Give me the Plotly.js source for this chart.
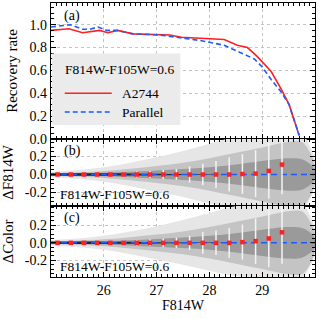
<!DOCTYPE html>
<html>
<head>
<meta charset="utf-8">
<script src="https://cdn.plot.ly/plotly-3.0.1.min.js"></script>
<style>html,body{margin:0;padding:0;background:#fff}#chart{width:319px;height:319px}</style>
</head>
<body>
<div id="chart"></div>
<script>
// ---- Panel (a): recovery rate ----
const a2744Mag  = [25.0, 25.34, 25.6, 25.92, 26.08, 26.26, 26.55, 26.87, 27.25, 27.47, 27.85, 28.28, 28.53, 28.72, 28.9, 29.17, 29.36, 29.51, 29.70];
const a2744Rate = [0.95, 0.965, 0.93, 0.95, 0.93, 0.95, 0.92, 0.915, 0.91, 0.89, 0.88, 0.87, 0.82, 0.80, 0.725, 0.59, 0.435, 0.30, 0.03];
const parMag  = [25.0, 25.36, 25.6, 25.74, 25.89, 26.06, 26.25, 26.55, 27.06, 27.38, 27.85, 28.28, 28.6, 28.85, 29.0, 29.17, 29.36, 29.51, 29.70];
const parRate = [0.98, 1.0, 0.96, 0.96, 0.98, 0.95, 0.95, 0.92, 0.91, 0.89, 0.86, 0.82, 0.755, 0.70, 0.63, 0.52, 0.41, 0.30, 0.03];

// ---- Panels (b),(c): binned offsets ----
const binMag = [25.125, 25.375, 25.625, 25.875, 26.125, 26.375, 26.625, 26.875, 27.125, 27.375, 27.625, 27.875, 28.125, 28.375, 28.625, 28.875, 29.125, 29.375];
const dMagMean = [0, 0, 0, 0, 0, 0, 0, 0, 0, 0, 0, 0, 0, 0, 0.005, 0.01, 0.04, 0.11];
const dMagErr  = [0.01, 0.012, 0.015, 0.018, 0.022, 0.027, 0.033, 0.04, 0.05, 0.06, 0.09, 0.12, 0.15, 0.19, 0.22, 0.26, 0.31, 0.33];
const dColMean = [0, 0, 0, 0, 0, 0, 0, 0, 0, 0, 0, 0, 0, 0, 0.008, 0.02, 0.05, 0.12];
const dColErr  = [0.01, 0.012, 0.015, 0.018, 0.022, 0.027, 0.033, 0.04, 0.05, 0.06, 0.08, 0.125, 0.14, 0.17, 0.2, 0.26, 0.33, 0.36];

// scatter-cloud envelopes
const cloudMag = [25.0, 25.25, 25.5, 26.0, 26.5, 27.0, 27.5, 28.0, 28.5, 29.0, 29.5, 29.75, 29.9, 30.0];
const outerHi  = [0.03, 0.04, 0.05, 0.08, 0.13, 0.19, 0.26, 0.34, 0.42, 0.45, 0.45, 0.45, 0.32, 0.15];
const outerLo  = [-0.03, -0.04, -0.05, -0.08, -0.13, -0.19, -0.25, -0.32, -0.38, -0.40, -0.40, -0.40, -0.28, -0.12];
const midHalf  = [0.016, 0.02, 0.026, 0.04, 0.065, 0.095, 0.13, 0.18, 0.24, 0.30, 0.36, 0.36, 0.25, 0.1];
const innerHalf= [0.008, 0.01, 0.013, 0.02, 0.03, 0.045, 0.06, 0.08, 0.11, 0.15, 0.18, 0.17, 0.12, 0.05];
const coreHalf = [0.014, 0.014, 0.014, 0.013, 0.011, 0.008, 0.005, 0.003, 0.0, 0.0, 0.0, 0.0, 0.0, 0.0];

const zeroX = [25, 30];
const zeroY = [0, 0];

const aTicks = [0, 0.2, 0.4, 0.6, 0.8, 1.0];
const aTickText = ['0.0', '0.2', '0.4', '0.6', '0.8', '1.0'];
const dTicks = [-0.2, 0, 0.2];
const dTickText = ['-0.2', '0.0', '0.2'];
const xTicks = [26, 27, 28, 29];
const xTickText = ['26', '27', '28', '29'];

const FONT = '"Liberation Serif", "Times New Roman", serif';
const RED = '#ff2020';
const BLUE = '#1f5cff';

function band(hi, lo, color, xa, ya) {
  const xs = cloudMag.concat(cloudMag.slice().reverse());
  const ys = hi.concat(lo.slice().reverse());
  return {x: xs, y: ys, type: 'scatter', mode: 'lines', fill: 'toself', fillcolor: color,
          line: {width: 0, color: color, shape: 'spline'}, xaxis: xa, yaxis: ya, hoverinfo: 'skip', showlegend: false};
}
function neg(arr) { return arr.map(v => -v); }

function cloud(xa, ya) {
  return [
    band(outerHi, outerLo, '#e6e6e6', xa, ya),
    band(midHalf, neg(midHalf), '#c4c4c4', xa, ya),
    band(innerHalf, neg(innerHalf), '#9a9a9a', xa, ya),
    band(coreHalf, neg(coreHalf), '#262626', xa, ya)
  ];
}

const traces = [
  {x: a2744Mag, y: a2744Rate, type: 'scatter', mode: 'lines', line: {color: RED, width: 1.6}, xaxis: 'x', yaxis: 'y', showlegend: false},
  {x: parMag, y: parRate, type: 'scatter', mode: 'lines', line: {color: BLUE, width: 1.6, dash: '5px,3px'}, xaxis: 'x', yaxis: 'y', showlegend: false},
  ...cloud('x2', 'y2'),
  {x: zeroX, y: zeroY, type: 'scatter', mode: 'lines', line: {color: BLUE, width: 1.5, dash: '6px,4px'}, xaxis: 'x2', yaxis: 'y2', showlegend: false},
  {x: binMag, y: dMagMean, type: 'scatter', mode: 'markers', marker: {symbol: 'square', size: 4.5, color: RED},
   error_y: {type: 'data', array: dMagErr, color: '#f4f4f4', thickness: 1.5, width: 0}, xaxis: 'x2', yaxis: 'y2', showlegend: false},
  ...cloud('x3', 'y3'),
  {x: zeroX, y: zeroY, type: 'scatter', mode: 'lines', line: {color: BLUE, width: 1.5, dash: '6px,4px'}, xaxis: 'x3', yaxis: 'y3', showlegend: false},
  {x: binMag, y: dColMean, type: 'scatter', mode: 'markers', marker: {symbol: 'square', size: 4.5, color: RED},
   error_y: {type: 'data', array: dColErr, color: '#f4f4f4', thickness: 1.5, width: 0}, xaxis: 'x3', yaxis: 'y3', showlegend: false}
];

const axCommon = {
  showline: true, linecolor: '#000', linewidth: 1.2, mirror: 'allticks',
  ticks: 'inside', ticklen: 5, tickwidth: 1, tickcolor: '#000',
  showgrid: true, gridcolor: '#c4c4c4', griddash: 'dot', gridwidth: 1,
  zeroline: false, tickfont: {family: FONT, size: 14, color: '#000'}
};
function xax(anchor, showLabels) {
  return Object.assign({}, axCommon, {
    range: [25, 30], anchor: anchor, tickmode: 'array', tickvals: xTicks, ticktext: xTickText,
    showticklabels: showLabels, matches: anchor === 'y' ? undefined : 'x',
    minor: {dtick: 0.1, ticks: 'inside', ticklen: 3, tickcolor: '#000', showgrid: false}
  });
}

const layout = {
  width: 319, height: 319,
  margin: {l: 51, r: 4, t: 3, b: 42},
  paper_bgcolor: '#fff', plot_bgcolor: '#fff',
  font: {family: FONT, color: '#000'},
  showlegend: false,
  xaxis: xax('y', false),
  xaxis2: xax('y2', false),
  xaxis3: Object.assign(xax('y3', true), {title: {text: 'F814W', font: {family: FONT, size: 14}, standoff: 2}}),
  yaxis: Object.assign({}, axCommon, {
    domain: [0.504, 1], range: [0, 1.19], anchor: 'x', tickmode: 'array', tickvals: aTicks, ticktext: aTickText,
    minor: {dtick: 0.05, ticks: 'inside', ticklen: 3, tickcolor: '#000', showgrid: false},
    title: {text: 'Recovery rate', font: {family: FONT, size: 15}, standoff: 8}
  }),
  yaxis2: Object.assign({}, axCommon, {
    domain: [0.259, 0.504], range: [-0.35, 0.395], anchor: 'x2', tickmode: 'array', tickvals: dTicks, ticktext: dTickText,
    minor: {dtick: 0.05, ticks: 'inside', ticklen: 3, tickcolor: '#000', showgrid: false},
    title: {text: 'ΔF814W', font: {family: FONT, size: 15}, standoff: 8}
  }),
  yaxis3: Object.assign({}, axCommon, {
    domain: [0, 0.259], range: [-0.39, 0.42], anchor: 'x3', tickmode: 'array', tickvals: dTicks, ticktext: dTickText,
    minor: {dtick: 0.05, ticks: 'inside', ticklen: 3, tickcolor: '#000', showgrid: false},
    title: {text: 'ΔColor', font: {family: FONT, size: 15}, standoff: 8}
  }),
  shapes: [
    {type: 'rect', xref: 'x', yref: 'y', x0: 25.02, x1: 27.45, y0: 0.122, y1: 0.748, fillcolor: '#ebebeb', line: {width: 0}, layer: 'above'},
    {type: 'line', xref: 'x', yref: 'y', x0: 25.26, x1: 26.15, y0: 0.40, y1: 0.40, line: {color: RED, width: 1.6}, layer: 'above'},
    {type: 'line', xref: 'x', yref: 'y', x0: 25.26, x1: 26.15, y0: 0.235, y1: 0.235, line: {color: BLUE, width: 1.6, dash: '5px,3px'}, layer: 'above'}
  ],
  annotations: [
    {text: 'F814W-F105W=0.6', xref: 'x', yref: 'y', x: 25.235, y: 0.609, xanchor: 'left', yanchor: 'middle', showarrow: false, font: {family: FONT, size: 13.5}},
    {text: 'A2744', xref: 'x', yref: 'y', x: 26.3, y: 0.40, xanchor: 'left', yanchor: 'middle', showarrow: false, font: {family: FONT, size: 13.5}},
    {text: 'Parallel', xref: 'x', yref: 'y', x: 26.3, y: 0.235, xanchor: 'left', yanchor: 'middle', showarrow: false, font: {family: FONT, size: 13.5}},
    {text: '(a)', xref: 'paper', yref: 'paper', x: 0.04, y: 0.988, xanchor: 'left', yanchor: 'top', showarrow: false, font: {family: FONT, size: 14}},
    {text: '(b)', xref: 'paper', yref: 'paper', x: 0.04, y: 0.497, xanchor: 'left', yanchor: 'top', showarrow: false, font: {family: FONT, size: 14}},
    {text: 'F814W-F105W=0.6', xref: 'paper', yref: 'paper', x: 0.025, y: 0.265, xanchor: 'left', yanchor: 'bottom', showarrow: false, font: {family: FONT, size: 13.5}},
    {text: '(c)', xref: 'paper', yref: 'paper', x: 0.04, y: 0.252, xanchor: 'left', yanchor: 'top', showarrow: false, font: {family: FONT, size: 14}},
    {text: 'F814W-F105W=0.6', xref: 'paper', yref: 'paper', x: 0.025, y: 0.005, xanchor: 'left', yanchor: 'bottom', showarrow: false, font: {family: FONT, size: 13.5}}
  ]
};

Plotly.newPlot('chart', traces, layout, {staticPlot: true, displayModeBar: false});
</script>
</body>
</html>
